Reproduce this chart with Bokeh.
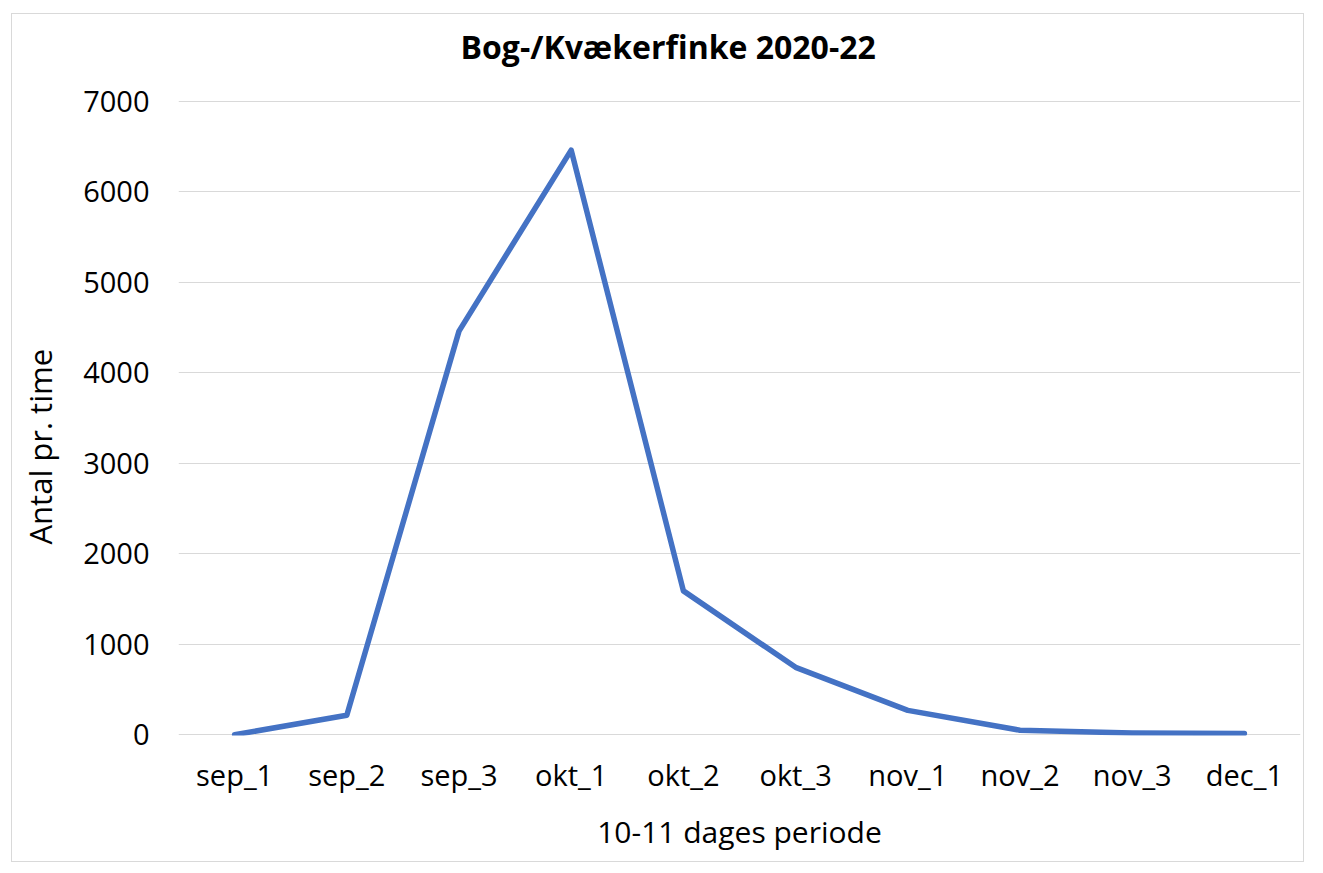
from bokeh.plotting import figure
from bokeh.models import FactorRange, Range1d, Title, FixedTicker
from bokeh.embed import file_html
from bokeh.resources import INLINE

categories = ["sep_1", "sep_2", "sep_3", "okt_1", "okt_2", "okt_3",
              "nov_1", "nov_2", "nov_3", "dec_1"]
counts = [0, 215, 4460, 6460, 1590, 745, 270, 50, 20, 15]
y_ticks = [0, 1000, 2000, 3000, 4000, 5000, 6000, 7000]

title_text = "Bog-/Kvækerfinke 2020-22"
x_title = "10-11 dages periode"
y_title = "Antal pr. time"

FONT = "Open Sans"

p = figure(
    x_range=FactorRange(*categories),
    y_range=Range1d(-8, 7008),
    width=1293, height=849,
    output_backend="svg", toolbar_location=None,
    min_border_left=166, min_border_right=5,
    min_border_top=86, min_border_bottom=128,
    margin=(13, 0, 0, 11),
    styles={"border": "1px solid #d9d9d9"},
)
p.outline_line_color = None
p.background_fill_color = "white"
p.border_fill_color = "white"

p.line(x=categories, y=counts, line_color="#4472C4", line_width=5.5,
       line_join="round", line_cap="round")

p.xgrid.grid_line_color = None
p.ygrid.grid_line_color = "#d9d9d9"
p.ygrid.grid_line_width = 1
p.yaxis.ticker = FixedTicker(ticks=y_ticks)

for ax in (p.xaxis[0], p.yaxis[0]):
    ax.axis_line_color = None
    ax.major_tick_line_color = None
    ax.minor_tick_line_color = None
    ax.major_tick_out = 0
    ax.major_tick_in = 0
    ax.major_label_text_font = FONT
    ax.major_label_text_font_size = "29px"
    ax.major_label_text_color = "#000000"

p.yaxis.major_label_standoff = 29
p.xaxis.major_label_standoff = 19

p.xaxis.axis_label = x_title
p.xaxis.axis_label_text_font = FONT
p.xaxis.axis_label_text_font_size = "30px"
p.xaxis.axis_label_text_font_style = "normal"
p.xaxis.axis_label_text_color = "#000000"
p.xaxis.axis_label_standoff = 14

# padding order: (left, right, top, bottom) in the text's own frame
p.add_layout(Title(text=y_title, text_font=FONT, text_font_size="31px",
                   text_font_style="normal", text_color="#000000",
                   align="left", offset=191, standoff=0,
                   padding=(0, 0, 0, 20)), "left")

p.add_layout(Title(text=title_text, text_font=FONT, text_font_size="32px",
                   text_font_style="bold", text_color="#000000",
                   align="left", offset=282, standoff=0,
                   padding=(0, 0, 4, 33)), "above")

open("out.html", "w").write(file_html(p, INLINE))
